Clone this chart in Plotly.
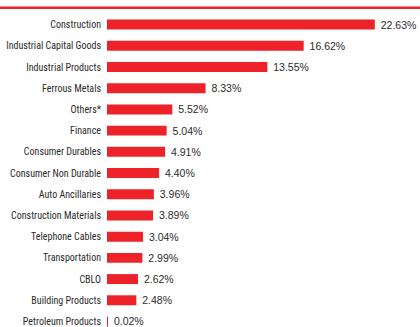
import plotly.graph_objects as go

categories = ["Construction", "Industrial Capital Goods", "Industrial Products", "Ferrous Metals",
              "Others*", "Finance", "Consumer Durables", "Consumer Non Durable", "Auto Ancillaries",
              "Construction Materials", "Telephone Cables", "Transportation", "CBLO",
              "Building Products", "Petroleum Products"]
values = [22.63, 16.62, 13.55, 8.33, 5.52, 5.04, 4.91, 4.40, 3.96, 3.89, 3.04, 2.99, 2.62, 2.48, 0.02]
labels = [f" {v:.2f}%" for v in values]

RED = "#EE2229"
W, H = 420, 327
L, R, T, B = 107, 0, 14, 0
pw, ph = W - L - R, H - T - B

fig = go.Figure(go.Bar(
    y=list(range(len(categories))), x=values, orientation="h",
    marker=dict(color=RED, line=dict(width=0)),
    text=labels, textposition="outside", cliponaxis=False, constraintext="none",
    textfont=dict(family="Liberation Sans, Arial, sans-serif", size=10.5, color="#2b2b2b"),
    width=0.47, hoverinfo="skip",
))

fig.update_layout(
    width=W, height=H, margin=dict(l=L, r=R, t=T, b=B, autoexpand=False),
    paper_bgcolor="white", plot_bgcolor="white", showlegend=False,
    xaxis=dict(range=[0, 26.45], visible=False, fixedrange=True),
    yaxis=dict(range=[14.26, -0.5], tickmode="array", tickvals=list(range(len(categories))),
               ticktext=categories, showgrid=False, zeroline=False, showline=False,
               ticks="outside", ticklen=3, tickcolor="rgba(0,0,0,0)",
               tickfont=dict(family="Roboto Condensed, Liberation Sans Narrow, sans-serif",
                             size=10, color="#2b2b2b"),
               fixedrange=True),
    shapes=[dict(type="line", xref="paper", yref="paper",
                 x0=-L / pw, x1=(W - L) / pw,
                 y0=1 + (T - 7.7) / ph, y1=1 + (T - 7.7) / ph,
                 line=dict(color=RED, width=2.5))],
)

fig.write_html("out.html", config={"displayModeBar": False})
